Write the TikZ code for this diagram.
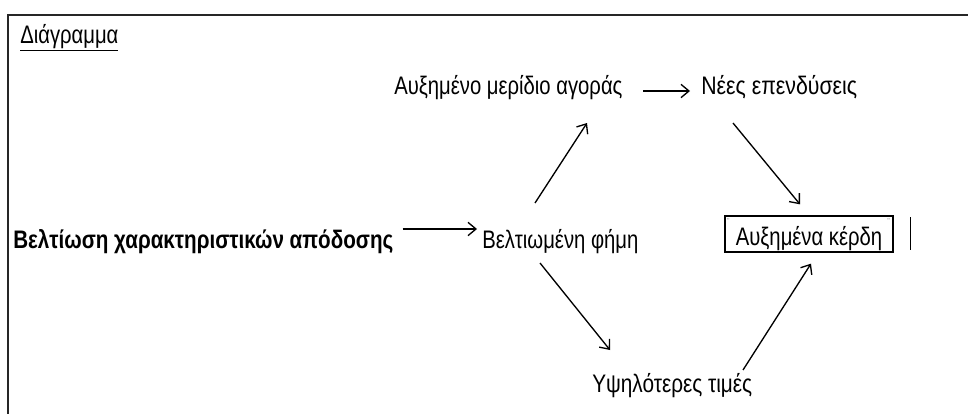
\documentclass[tikz,border=0pt]{standalone}
\usepackage{fontspec}
\setmainfont{Liberation Sans}[FakeStretch=0.8]
\newfontfamily\boldnarrow{Liberation Sans}[FakeStretch=0.814]
\newfontfamily\narrowB{Liberation Sans}[FakeStretch=0.84]
\newfontfamily\narrowC{Liberation Sans}[FakeStretch=0.82]
\usetikzlibrary{arrows.meta,calc}
\begin{document}
\begin{tikzpicture}[x=0.75pt,y=-0.75pt,
  txt/.style={font=\fontsize{19}{22}\selectfont},
  lbl/.style={txt,inner sep=0pt,anchor=base west},
  arr/.style={-{Straight Barb[length=6pt,width=10pt,line width=1pt]},line width=1pt},
  frame/.style={line width=1.6pt,draw=black!85}]
  % page area and frame
  \useasboundingbox (0,0) rectangle (968,414);
  \draw[frame] (8,414) -- (8,15) -- (968,15);

  % heading
  \node[lbl] (title) at (20,43) {\underline{Διάγραμμα}};

  % nodes
  \node[lbl,font=\fontsize{19}{22}\boldnarrow\bfseries] (bold) at (13,248) {Βελτίωση χαρακτηριστικών απόδοσης};
  \node[lbl] (fim) at (482,248) {Βελτιωμένη φήμη};
  \node[lbl] (amer) at (394,94) {Αυξημένο μερίδιο αγοράς};
  \node[lbl,font=\fontsize{19}{22}\narrowB] (nees) at (701,94) {Νέες επενδύσεις};
  \node[lbl,font=\fontsize{19}{22}\narrowC] (ypsil) at (592,392) {Υψηλότερες τιμές};
  \node[txt,draw,line width=1pt,minimum width=168*0.75pt,minimum height=36*0.75pt,
        inner sep=0pt,text height=16.5pt,text depth=0pt] (kerdi) at (809,234) {Αυξημένα κέρδη};
  \node[inner sep=0pt,font=\fontsize{6}{7}\selectfont] (m1) at ($(kerdi.north west)+(4,6)$) {¨};
  \node[inner sep=0pt,font=\fontsize{6}{7}\selectfont] (m2) at ($(kerdi.north east)+(-5,6)$) {¨};
  \coordinate (cur1) at ($(kerdi.north east)+(17,2)$);
  \coordinate (cur2) at ($(kerdi.south east)+(17,-3)$);
  \draw[line width=1pt] (cur1) -- (cur2);

  % connectors
  \draw[arr] ($(bold.base east)+(9,-19)$) -- ($(fim.base west)+(-5,-19)$);
  \draw[arr] ($(amer.base west)+(249,-3)$) -- ($(nees.base west)+(-11,-3)$);
  \draw[arr] ($(fim.base west)+(53,-45)$) -- ($(amer.base west)+(193,29)$);
  \draw[arr] ($(nees.base west)+(32,29)$) -- ($(kerdi.north)+(-9,-11)$);
  \draw[arr] ($(fim.base west)+(58,15)$) -- ($(ypsil.base west)+(18,-42)$);
  \draw[arr] ($(ypsil.base west)+(151,-22)$) -- ($(kerdi.south)+(2,11)$);
\end{tikzpicture}
\end{document}
